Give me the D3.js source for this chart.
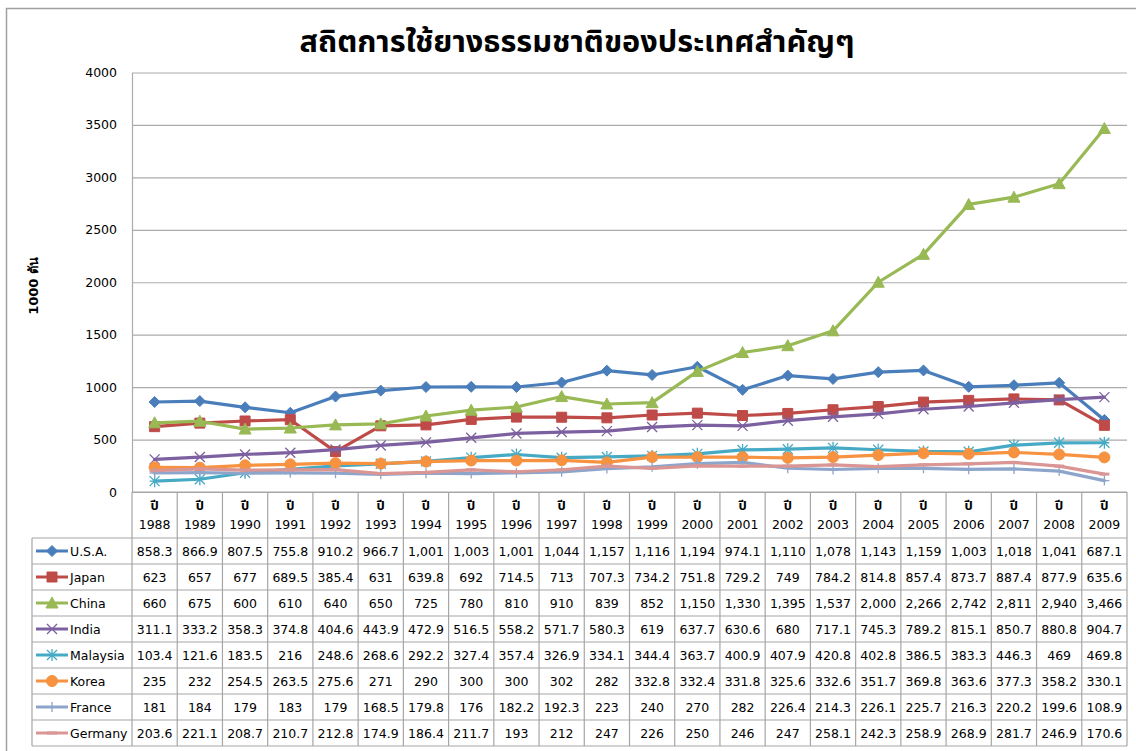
<!DOCTYPE html>
<html><head><meta charset="utf-8">
<script src="https://cdn.jsdelivr.net/npm/d3@7"></script>
<style>
html,body{margin:0;padding:0;background:#fff;}
svg{display:block;}
text{font-family:"DejaVu Sans",Tahoma,Verdana,sans-serif;}
</style></head><body>
<svg id="c" width="1136" height="751"></svg>
<script>
const title = "สถิตการใช้ยางธรรมชาติของประเทศสำคัญๆ";
const yLabel = "1000 ตัน";
const years = ["1988","1989","1990","1991","1992","1993","1994","1995","1996","1997","1998","1999","2000","2001","2002","2003","2004","2005","2006","2007","2008","2009"];
const yearPrefix = "ปี";
const yTicks = [0,500,1000,1500,2000,2500,3000,3500,4000];
const seriesNames = ["U.S.A.","Japan","China","India","Malaysia","Korea","France","Germany"];
const usa      = [858.3,866.9,807.5,755.8,910.2,966.7,1001,1003,1001,1044,1157,1116,1194,974.1,1110,1078,1143,1159,1003,1018,1041,687.1];
const japan    = [623,657,677,689.5,385.4,631,639.8,692,714.5,713,707.3,734.2,751.8,729.2,749,784.2,814.8,857.4,873.7,887.4,877.9,635.6];
const china    = [660,675,600,610,640,650,725,780,810,910,839,852,1150,1330,1395,1537,2000,2266,2742,2811,2940,3466];
const india    = [311.1,333.2,358.3,374.8,404.6,443.9,472.9,516.5,558.2,571.7,580.3,619,637.7,630.6,680,717.1,745.3,789.2,815.1,850.7,880.8,904.7];
const malaysia = [103.4,121.6,183.5,216,248.6,268.6,292.2,327.4,357.4,326.9,334.1,344.4,363.7,400.9,407.9,420.8,402.8,386.5,383.3,446.3,469,469.8];
const korea    = [235,232,254.5,263.5,275.6,271,290,300,300,302,282,332.8,332.4,331.8,325.6,332.6,351.7,369.8,363.6,377.3,358.2,330.1];
const france   = [181,184,179,183,179,168.5,179.8,176,182.2,192.3,223,240,270,282,226.4,214.3,226.1,225.7,216.3,220.2,199.6,108.9];
const germany  = [203.6,221.1,208.7,210.7,212.8,174.9,186.4,211.7,193,212,247,226,250,246,247,258.1,242.3,258.9,268.9,281.7,246.9,170.6];
const seriesValues = [usa,japan,china,india,malaysia,korea,france,germany];
const colors = ["#4A7EBB","#BE4B48","#98B954","#7D60A0","#46AAC5","#F69240","#8EA5CB","#D99694"];
const markers = ["diamond","square","triangle","x","asterisk","circle","plus","dash"];

const svg = d3.select("#c");
const L = 132, R = 1127, T = 72.5, B = 492;
const x = d3.scaleBand().domain(years).range([L, R]);
const y = d3.scaleLinear().domain([0, 4000]).range([B, T]);
const cx = d => x(d) + x.bandwidth() / 2;
const gridColor = "#ABABAB";
const tableColor = "#A6A6A6";

// outer border
svg.append("rect").attr("x", 6.5).attr("y", 8.5).attr("width", 1300).attr("height", 900)
  .attr("fill", "none").attr("stroke", "#A0A0A0").attr("stroke-width", 1.5);

// title
svg.append("text").attr("x", 577).attr("y", 52).attr("text-anchor", "middle")
  .attr("font-size", 30).attr("font-weight", "bold").attr("fill", "#000")
  .attr("textLength", 555).attr("lengthAdjust", "spacingAndGlyphs")
  .style("font-family", "Tahoma,'Noto Sans Thai','Noto Sans',sans-serif")
  .text(title);

// gridlines
const grid = svg.append("g").attr("transform", `translate(${L},0)`)
  .call(d3.axisLeft(y).tickValues(yTicks).tickSize(-(R - L)).tickFormat(""));
grid.select(".domain").remove();
grid.selectAll("line").attr("stroke", gridColor).attr("stroke-width", 1.2);

// y axis
const ya = svg.append("g").attr("transform", `translate(${L},0)`)
  .call(d3.axisLeft(y).tickValues(yTicks).tickSize(0).tickPadding(15).tickFormat(d3.format("d")));
ya.select(".domain").attr("stroke", gridColor).attr("stroke-width", 1.2);
ya.selectAll("text").attr("font-size", 12.5).attr("fill", "#000").style("font-family", "'DejaVu Sans',Tahoma,sans-serif");

// y label
svg.append("text").attr("transform", "translate(38,286) rotate(-90)")
  .attr("text-anchor", "middle").attr("font-size", 13).attr("font-weight", "bold")
  .text(yLabel);

// markers
function markerPath(type, s) {
  const p = d3.path();
  const h = s / 2;
  switch (type) {
    case "diamond": p.moveTo(0,-h-1); p.lineTo(h+1,0); p.lineTo(0,h+1); p.lineTo(-h-1,0); p.closePath(); break;
    case "square": p.rect(-h,-h,s,s); break;
    case "triangle": p.moveTo(0,-h-1); p.lineTo(h+1,h); p.lineTo(-h-1,h); p.closePath(); break;
    case "circle": p.arc(0,0,h+0.5,0,2*Math.PI); break;
    case "x": p.moveTo(-h,-h); p.lineTo(h,h); p.moveTo(h,-h); p.lineTo(-h,h); break;
    case "asterisk": p.moveTo(-h,-h); p.lineTo(h,h); p.moveTo(h,-h); p.lineTo(-h,h); p.moveTo(0,-h-1); p.lineTo(0,h+1); p.moveTo(-h,0); p.lineTo(h,0); break;
    case "plus": p.moveTo(0,-h); p.lineTo(0,h); p.moveTo(-h,0); p.lineTo(h,0); break;
    case "dash": p.moveTo(-h,0); p.lineTo(h,0); break;
  }
  return p.toString();
}
const filled = t => ["diamond","square","triangle","circle"].includes(t);
const markerSize = t => ({diamond:9,square:10,triangle:10,circle:10,x:10,asterisk:10,plus:10,dash:10})[t];
function drawMarker(g, type, color) {
  const f = filled(type);
  g.append("path").attr("d", markerPath(type, markerSize(type)))
    .attr("fill", f ? color : "none").attr("stroke", color)
    .attr("stroke-width", f ? 1 : (type === "dash" ? 3 : 1.3));
}

// lines
const line = d3.line().x((d, i) => cx(years[i])).y(d => y(d));
const plot = svg.append("g");
seriesValues.forEach((vals, si) => {
  const g = plot.append("g");
  g.append("path").attr("d", line(vals)).attr("fill", "none")
    .attr("stroke", colors[si]).attr("stroke-width", 3.2).attr("stroke-linejoin", "round").attr("stroke-linecap", "round");
  vals.forEach((v, i) => {
    const mg = g.append("g").attr("transform", `translate(${cx(years[i])},${y(v)})`);
    drawMarker(mg, markers[si], colors[si]);
  });
});

// table
const headerB = 538, tableB = 746, legL = 32;
const rowY = d3.scaleBand().domain(seriesNames).range([headerB, tableB]);
const tbl = svg.append("g");
const fmt = v => v >= 1000 ? d3.format(",.0f")(v) : String(v);

// header cells
years.forEach(yr => {
  tbl.append("text").attr("x", cx(yr)).attr("y", 510).attr("text-anchor", "middle")
    .attr("font-size", 13).attr("font-weight", "bold").style("font-family", "Tahoma,'Noto Sans Thai',sans-serif").text(yearPrefix);
  tbl.append("text").attr("x", cx(yr)).attr("y", 529).attr("text-anchor", "middle")
    .attr("font-size", 12.5).text(yr);
});
// data cells
seriesNames.forEach((name, si) => {
  const yc = rowY(name) + rowY.bandwidth() / 2;
  seriesValues[si].forEach((v, i) => {
    tbl.append("text").attr("x", cx(years[i])).attr("y", yc + 4.5).attr("text-anchor", "middle")
      .attr("font-size", 12.5).text(fmt(v));
  });
  // legend
  const lg = tbl.append("g");
  lg.append("line").attr("x1", 36).attr("x2", 68).attr("y1", yc).attr("y2", yc)
    .attr("stroke", colors[si]).attr("stroke-width", 3);
  const mg = lg.append("g").attr("transform", `translate(52,${yc})`);
  drawMarker(mg, markers[si], colors[si]);
  lg.append("text").attr("x", 70).attr("y", yc + 4.5).attr("font-size", 12.5).text(name);
});
// table grid lines
const tl = (x1, y1, x2, y2) => tbl.append("line").attr("x1", x1).attr("y1", y1).attr("x2", x2).attr("y2", y2)
  .attr("stroke", tableColor).attr("stroke-width", 1.2);
tl(L, B, L, tableB);
years.forEach(yr => tl(x(yr) + x.bandwidth(), B, x(yr) + x.bandwidth(), tableB));
tl(legL, headerB, legL, tableB);
tl(L, B, R, B);
seriesNames.forEach(n => tl(legL, rowY(n), R, rowY(n)));
tl(legL, tableB, R, tableB);
</script></body></html>
